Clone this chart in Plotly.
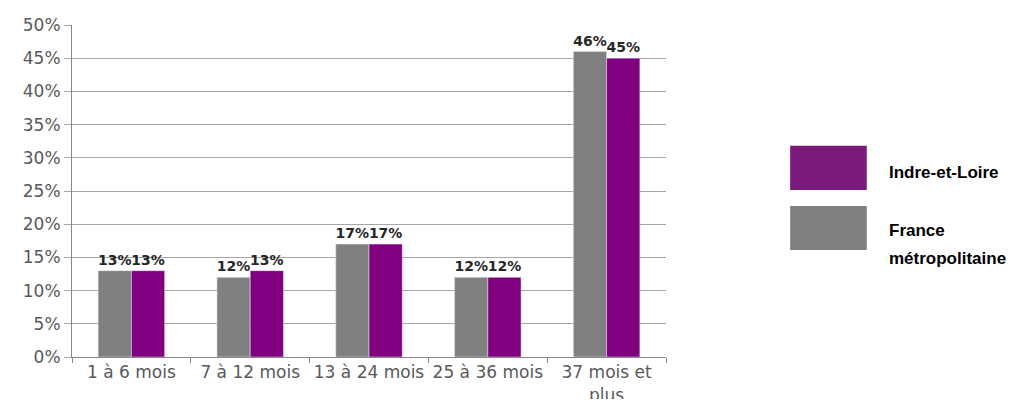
import plotly.graph_objects as go

categories = ["1 à 6 mois", "7 à 12 mois", "13 à 24 mois", "25 à 36 mois", "37 mois et<br>plus"]
france = [0.13, 0.12, 0.17, 0.12, 0.46]
indre = [0.13, 0.13, 0.17, 0.12, 0.45]
series_names = ["France métropolitaine", "Indre-et-Loire"]

GRAY = "#808080"
PURPLE = "#800080"

fig = go.Figure()
for vals, name, color in [(france, series_names[0], GRAY), (indre, series_names[1], PURPLE)]:
    fig.add_trace(go.Bar(x=categories, y=vals, name=name, marker_color=color,
                         texttemplate="%{y:.0%}", textposition="outside", cliponaxis=False,
                         constraintext="none",
                         textfont=dict(family="DejaVu Sans", size=14, color="#262626", weight="bold")))

fig.update_layout(
    width=1005, height=391,
    margin=dict(l=64, r=347, t=17, b=42),
    plot_bgcolor="white", paper_bgcolor="white",
    barmode="group", bargap=0.44, bargroupgap=0,
    showlegend=False,
    font=dict(family="DejaVu Sans", size=17, color="#595959"),
    xaxis=dict(showline=True, linecolor="#868686", linewidth=1, ticks="outside", tickson="boundaries",
               ticklen=5, tickcolor="#868686", showgrid=False, automargin=False, tickangle=0,
               tickfont=dict(size=17, color="#595959")),
    yaxis=dict(range=[0, 0.5], dtick=0.05, tickformat=".0%", showline=True, linecolor="#868686",
               linewidth=1, ticks="outside", ticklen=7, tickcolor="#a6a6a6", gridcolor="#a6a6a6",
               gridwidth=1, automargin=False, tickfont=dict(size=17, color="#595959"), zeroline=False),
)

# Custom legend (large swatches at the right)
fig.add_shape(type="rect", xref="paper", yref="paper", x0=1.209, x1=1.338, y0=0.503, y1=0.636,
              fillcolor="#7a1a7a", line=dict(width=0))
fig.add_shape(type="rect", xref="paper", yref="paper", x0=1.209, x1=1.338, y0=0.322, y1=0.455,
              fillcolor=GRAY, line=dict(width=0))
legend_texts = [("Indre-et-Loire", 0.557), ("France", 0.380), ("métropolitaine", 0.298)]
for label, yc in legend_texts:
    fig.add_annotation(xref="paper", yref="paper", x=1.372, y=yc, text=label, showarrow=False,
                       xanchor="left", yanchor="middle", align="left",
                       font=dict(family="Liberation Sans", size=17, color="#000000", weight="bold"))

fig.write_html("out.html")
